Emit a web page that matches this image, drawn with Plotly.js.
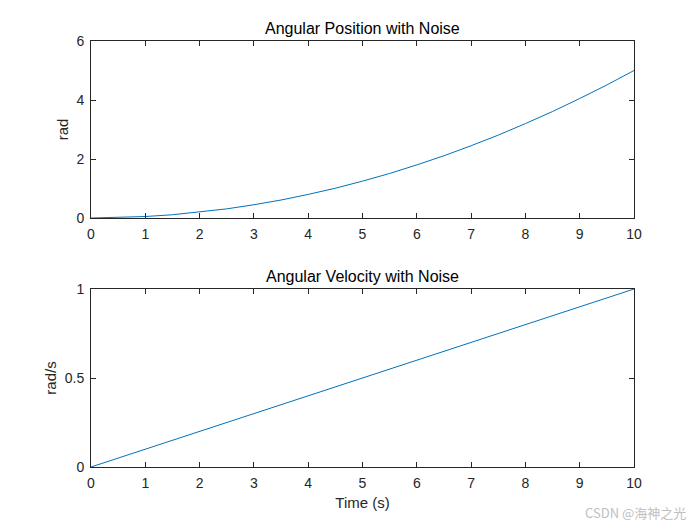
<!DOCTYPE html>
<html>
<head>
<meta charset="utf-8">
<script src="https://cdn.plot.ly/plotly-3.0.1.min.js"></script>
<style>html,body{margin:0;padding:0;background:#fff;}</style>
</head>
<body>
<div id="chart" style="width:700px;height:525px;"></div>
<script>
const time = [0,0.5,1,1.5,2,2.5,3,3.5,4,4.5,5,5.5,6,6.5,7,7.5,8,8.5,9,9.5,10];
const position = [0,0.0125,0.05,0.11,0.2,0.31,0.45,0.61,0.8,1.01,1.25,1.51,1.8,2.11,2.45,2.81,3.2,3.61,4.05,4.51,5.0];
const velocity = [0,0.05,0.1,0.15,0.2,0.25,0.3,0.35,0.4,0.45,0.5,0.55,0.6,0.65,0.7,0.75,0.8,0.85,0.9,0.95,1.0];
const xTicks = [0,1,2,3,4,5,6,7,8,9,10];
const posTicks = [0,2,4,6];
const velTicks = [0,0.5,1];
const velTickText = ['0','0.5','1'];

const lineColor = '#0072BD';
const axColor = '#262626';
const fam = 'Liberation Sans, Arial, sans-serif';
const font = {family:fam, size:14, color:axColor};

function axisBase(){
  return {showline:true, linecolor:axColor, linewidth:1, mirror:'ticks', ticks:'inside',
    ticklen:5, tickcolor:axColor, showgrid:false, zeroline:false, tickfont:font, ticklabelstandoff:3};
}

const traces = [
  {x:time, y:position, type:'scatter', mode:'lines', line:{color:lineColor, width:1}, xaxis:'x', yaxis:'y'},
  {x:time, y:velocity, type:'scatter', mode:'lines', line:{color:lineColor, width:1}, xaxis:'x2', yaxis:'y2'}
];

const layout = {
  width:700, height:525, showlegend:false,
  paper_bgcolor:'#fff', plot_bgcolor:'#fff',
  margin:{l:91, r:66, t:41, b:58},
  font:font,
  xaxis:Object.assign(axisBase(), {domain:[0,1], range:[0,10], tickvals:xTicks, anchor:'y'}),
  yaxis:Object.assign(axisBase(), {domain:[0.5845,1], range:[0,6], tickvals:posTicks, anchor:'x',
    title:{text:'rad', font:{family:fam, size:15, color:axColor}, standoff:4}}),
  xaxis2:Object.assign(axisBase(), {domain:[0,1], range:[0,10], tickvals:xTicks, anchor:'y2',
    title:{text:'Time (s)', font:{family:fam, size:15, color:axColor}, standoff:7}}),
  yaxis2:Object.assign(axisBase(), {domain:[0,0.4178], range:[0,1], tickvals:velTicks, ticktext:velTickText, anchor:'x2',
    title:{text:'rad/s', font:{family:fam, size:15, color:axColor}, standoff:4}}),
  annotations:[
    {text:'Angular Position with Noise', xref:'paper', yref:'paper', x:0.5, y:1, yanchor:'bottom', xanchor:'center', yshift:2, showarrow:false, font:{family:fam, size:16, color:'#000'}},
    {text:'Angular Velocity with Noise', xref:'paper', yref:'paper', x:0.5, y:0.4178, yanchor:'bottom', xanchor:'center', yshift:2, showarrow:false, font:{family:fam, size:16, color:'#000'}},
    {text:'CSDN @海神之光', xref:'paper', yref:'paper', x:1.1, y:-0.106, xanchor:'right', yanchor:'middle', showarrow:false, font:{family:'Noto Sans CJK SC, sans-serif', size:13, color:'#c0c0c0'}}
  ]
};

Plotly.newPlot('chart', traces, layout, {displayModeBar:false, staticPlot:true});
</script>
</body>
</html>
